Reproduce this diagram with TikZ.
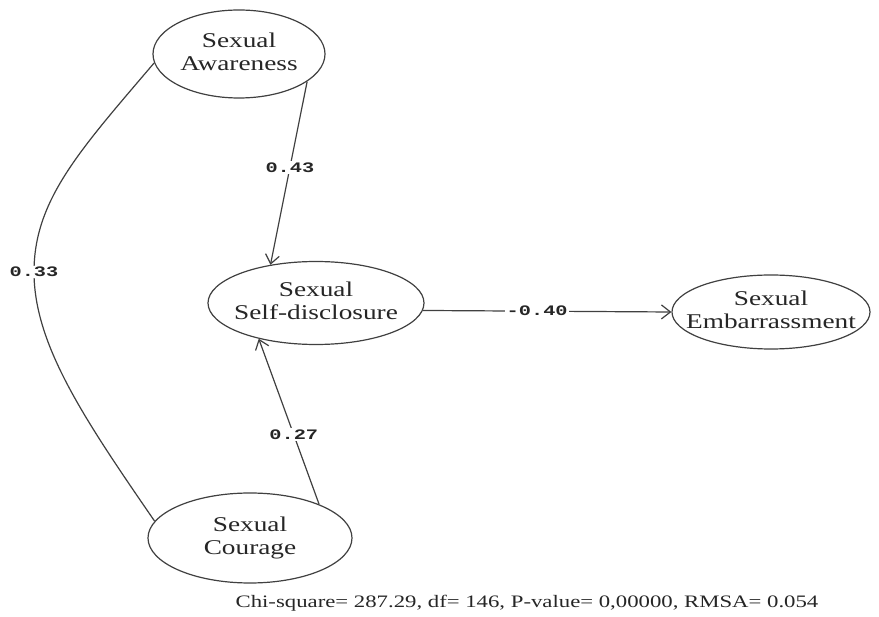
\documentclass[tikz,border=0pt]{standalone}
\usepackage{fontspec}
\setmainfont{Liberation Serif}[FakeStretch=1.3]
\newfontfamily\lblfont{Liberation Mono}[FakeStretch=1.4]
\usetikzlibrary{shapes.geometric,arrows.meta}
\newcommand\twolines[2]{\makebox[0pt]{\begin{tabular}{@{}c@{}}#1\\#2\end{tabular}}}
\begin{document}
\begin{tikzpicture}[x=1pt,y=-1pt,
  ell/.style={draw=black!75, ellipse, line width=1.2pt, inner sep=0pt,
    text=black!85, font=\fontsize{21}{23}\selectfont},
  lbl/.style={fill=white, inner sep=1.5pt, text=black!85,
    font=\lblfont\bfseries\fontsize{14.5}{16}\selectfont},
  conn/.style={draw=black!75, line width=1.2pt},
  arr/.style={conn, -{Straight Barb[length=9pt,width=14pt]}}]
\useasboundingbox (0,0) rectangle (879,617);
\fill[white] (0,0) rectangle (879,617);

\node[ell, minimum width=172pt, minimum height=88pt] (aw) at (239,54) {\raisebox{-2pt}{\twolines{Sexual}{Awareness}}};
\node[ell, minimum width=216pt, minimum height=83pt] (sd) at (316,303) {\twolines{Sexual}{Self-disclosure}};
\node[ell, minimum width=198pt, minimum height=74pt] (em) at (771,312) {\twolines{Sexual}{Embarrassment}};
\node[ell, minimum width=204pt, minimum height=90pt] (co) at (250,538) {\twolines{Sexual}{Courage}};

\coordinate (m) at (34,272);
\draw[conn] (aw.186) .. controls (80,150) and (34,200) .. (m)
  .. controls (34,345) and (85,420) .. (co.170);
\node[lbl] (l33) at (m) {0.33};

\draw[arr] (aw.-22) -- node[lbl, pos=0.47] (l43) {0.43} (sd.140);
\draw[arr] (co.26) -- node[lbl, pos=0.42] (l27) {0.27} (sd.212);
\draw[arr] (sd.-4) -- node[lbl, pos=0.46] (l40) {-0.40} (em.west);

\node[font=\fontsize{17.5}{20}\selectfont, text=black!85] (fit) at (527,603)
  {Chi-square= 287.29, df= 146, P-value= 0,00000, RMSA= 0.054};
\end{tikzpicture}
\end{document}
